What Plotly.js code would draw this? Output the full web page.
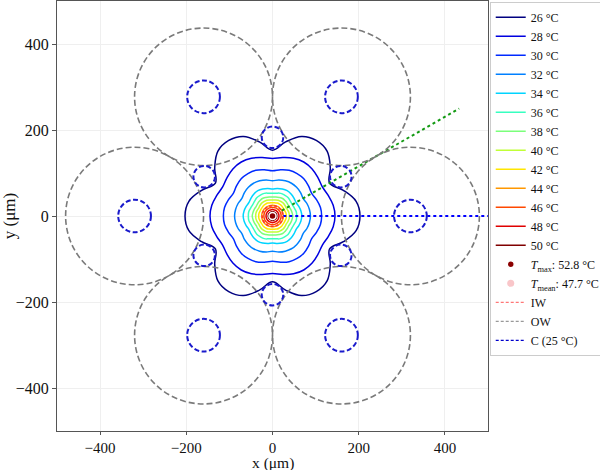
<!DOCTYPE html>
<html>
<head>
<meta charset="utf-8">
<script src="https://cdn.plot.ly/plotly-3.0.1.min.js"></script>
<style>html,body{margin:0;padding:0;background:#fff}#chart{width:600px;height:470px}</style>
</head>
<body>
<div id="chart"></div>
<script>
// ---- data ----
const levels = [26, 28, 30, 32, 34, 36, 38, 40, 42, 44, 46, 48, 50];
// angular offset (deg) from a lobe direction (0,60,...) towards a channel direction (30,90,...)
const angleOffsets = [0, 10, 20, 30];
const r26 = [203, 197, 175, 153];
const r28 = [145, 143, 138, 134];
const r30 = [114, 113, 109, 105];
const r32 = [88, 87, 85, 82];
const r34 = [68, 67, 65, 63];
const r36 = [56, 56, 54, 53];
const r38 = [47, 46, 45, 44];
const r40 = [39, 39, 38, 37];
const r42 = [32, 32, 31, 31];
const r44 = [25, 25, 25, 25];
const r46 = [20, 20, 20, 20];
const r48 = [15, 15, 15, 15];
const r50 = [10, 10, 10, 10];
const isoRadii = [r26, r28, r30, r32, r34, r36, r38, r40, r42, r44, r46, r48, r50];

const Tmax = 52.8, Tmean = 47.7;
const tmaxX = [0], tmaxY = [0];

// outer walls (large circles) and channels
const owAngles = [0, 60, 120, 180, 240, 300];
const owDist = 320, owRadius = 160;
const outerChanRadius = 38;
const innerChanAngles = [30, 90, 150, 210, 270, 330];
const innerChanDist = 183, innerChanRadius = 25;
const iwRadius = 24;

// probe lines (polar: start radius, end radius, angle)
const probeBlue = {r0: 25, r1: 500, ang: 0};
const probeGreen = {r0: 25, r1: 500, ang: 30};

// ---- styles ----
const levelColors = ['#000080','#0000e0','#002aff','#0080ff','#00d4ff','#37ffc0','#7bff7b','#c0ff37','#ffe600','#ff9700','#ff4800','#e00000','#800000'];
const FONT = 'Liberation Serif, Times New Roman, serif';

const rad = d => d * Math.PI / 180;
function isoCurve(radii) {
  const xs = [], ys = [];
  for (let a = 0; a <= 360; a += 10) {
    const m = a % 60;
    const off = m <= 30 ? m : 60 - m;
    const r = radii[angleOffsets.indexOf(off)];
    xs.push(r * Math.cos(rad(a)));
    ys.push(r * Math.sin(rad(a)));
  }
  return {xs, ys};
}

const traces = [];
levels.forEach((lv, i) => {
  const c = isoCurve(isoRadii[i]);
  traces.push({type: 'scatter', mode: 'lines', x: c.xs, y: c.ys,
    name: lv + ' °C', line: {color: levelColors[i], width: 1.5, shape: 'spline', smoothing: 1.1}, hoverinfo: 'skip'});
});

// probe lines
[probeBlue, probeGreen].forEach((p, k) => {
  traces.push({type: 'scatter', mode: 'lines', showlegend: false,
    x: [p.r0 * Math.cos(rad(p.ang)), p.r1 * Math.cos(rad(p.ang))],
    y: [p.r0 * Math.sin(rad(p.ang)), p.r1 * Math.sin(rad(p.ang))],
    line: {color: k === 0 ? '#0000ff' : '#119911', width: 2, dash: 'dot'}});
});

traces.push({type: 'scatter', mode: 'markers', x: tmaxX, y: tmaxY,
  name: '<i>T</i><sub>max</sub>: ' + Tmax + ' °C',
  marker: {color: '#8b0000', size: 7, line: {color: '#ffffff', width: 1.5}}});
traces.push({type: 'scatter', mode: 'markers', x: [null], y: [null],
  name: '<i>T</i><sub>mean</sub>: ' + Tmean + ' °C',
  marker: {color: '#f9c6c9', size: 7}});
traces.push({type: 'scatter', mode: 'lines', x: [null], y: [null], name: 'IW',
  line: {color: '#ff7777', width: 1.2, dash: '3px,2px'}});
traces.push({type: 'scatter', mode: 'lines', x: [null], y: [null], name: 'OW',
  line: {color: '#999999', width: 1.2, dash: '3px,2px'}});
traces.push({type: 'scatter', mode: 'lines', x: [null], y: [null], name: 'C (25 °C)',
  line: {color: '#0000cc', width: 1.2, dash: '3px,2px'}});

const shapes = [];
function circ(cx, cy, r, color, width, dash) {
  shapes.push({type: 'circle', xref: 'x', yref: 'y', x0: cx - r, x1: cx + r, y0: cy - r, y1: cy + r,
    line: {color, width, dash}, layer: 'above'});
}
owAngles.forEach(a => {
  const cx = owDist * Math.cos(rad(a)), cy = owDist * Math.sin(rad(a));
  circ(cx, cy, owRadius, '#7a7a7a', 1.6, '6px,3px');
  circ(cx, cy, outerChanRadius, '#1a1acc', 2, '5px,2.5px');
});
innerChanAngles.forEach(a => {
  circ(innerChanDist * Math.cos(rad(a)), innerChanDist * Math.sin(rad(a)), innerChanRadius, '#1a1acc', 2, '5px,2.5px');
});
circ(0, 0, iwRadius, '#ff3333', 1.5, '3px,2px');

const axisCommon = {
  range: [-500, 500], tickvals: [-400, -200, 0, 200, 400],
  showgrid: true, gridcolor: '#efefef', gridwidth: 1, zeroline: false,
  showline: true, mirror: true, linecolor: '#555555', linewidth: 1,
  ticks: 'outside', ticklen: 4, tickcolor: '#555555',
  tickfont: {family: FONT, size: 16, color: '#111'}
};

const layout = {
  width: 600, height: 470,
  margin: {l: 57, r: 112, t: 1, b: 39, autoexpand: false},
  paper_bgcolor: '#fff', plot_bgcolor: '#fff',
  xaxis: Object.assign({}, axisCommon, {ticklen: 3, tickfont: {family: FONT, size: 15, color: '#111'}}),
  yaxis: Object.assign({}, axisCommon, {title: {text: 'y (μm)', font: {family: FONT, size: 17, color: '#111'}, standoff: 2}}),
  annotations: [{text: 'x (μm)', xref: 'paper', yref: 'paper', x: 0.5, y: -0.074,
    xanchor: 'center', yanchor: 'middle', showarrow: false,
    font: {family: FONT, size: 15.5, color: '#111'}}],
  shapes,
  showlegend: true,
  legend: {x: 1.004, xanchor: 'left', y: 0.998, yanchor: 'top',
    bgcolor: '#fff', bordercolor: '#cccccc', borderwidth: 1, itemwidth: 30,
    font: {family: FONT, size: 12, color: '#111'}, tracegroupgap: 0}
};

Plotly.newPlot('chart', traces, layout, {staticPlot: true, displayModeBar: false});
</script>
</body>
</html>
